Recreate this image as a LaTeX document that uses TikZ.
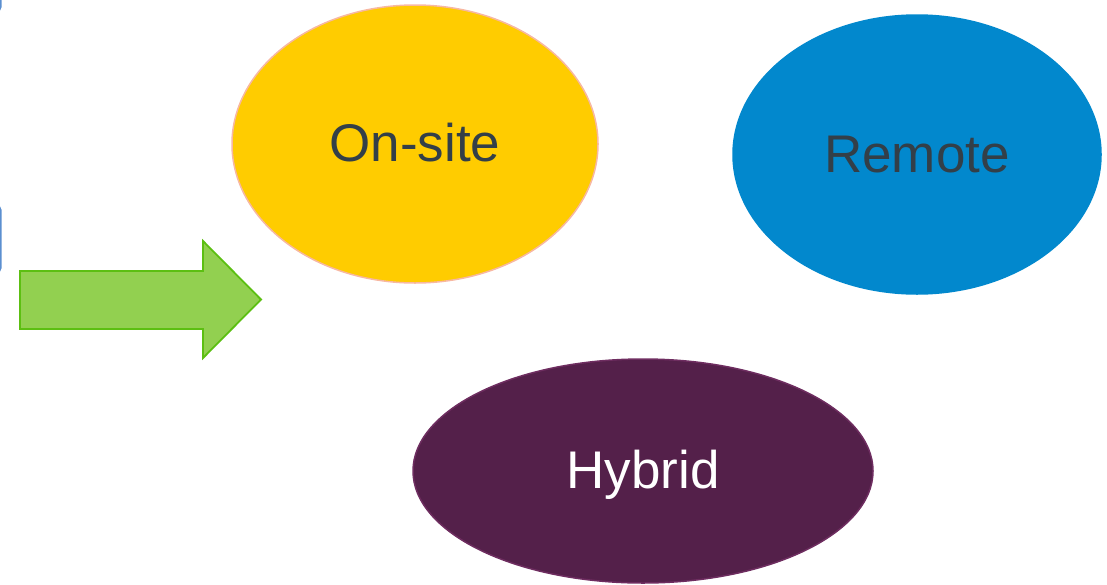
\documentclass[tikz,border=0pt]{standalone}
\usepackage{fontspec}
\setmainfont{Liberation Sans}
\usetikzlibrary{shapes.geometric}
\definecolor{onsitefill}{HTML}{FFCC00}
\definecolor{onsiteline}{HTML}{F7B8A2}
\definecolor{remotefill}{HTML}{0288CD}
\definecolor{hybridfill}{HTML}{54204A}
\definecolor{hybridline}{HTML}{6E2D60}
\definecolor{textdark}{HTML}{333F48}
\definecolor{arrowfill}{HTML}{92D050}
\definecolor{arrowline}{HTML}{5CBF12}
\definecolor{edgeblue}{HTML}{5B8FD0}
\tikzset{
  bubble/.style={ellipse, inner sep=0pt, line width=1.5pt,
    font=\fontsize{53}{60}\selectfont, text height=35pt, text depth=0pt},
}
\begin{document}
\begin{tikzpicture}[x=1pt,y=-1pt]
\useasboundingbox (0,0) rectangle (1107,584);
\begin{scope}
\clip (0,0) rectangle (1107,584);
\draw[edgeblue, line width=1.5pt, rounded corners=4pt] (-40,-30) rectangle (0.8,11);
\draw[edgeblue, line width=1.5pt, rounded corners=4pt] (-40,206) rectangle (0.8,272);
\end{scope}
\node[bubble, fill=onsitefill, draw=onsiteline, minimum width=366pt, minimum height=278pt, text=textdark] (onsite) at (415,144) {On-site};
\node[bubble, fill=remotefill, draw=remotefill, minimum width=368pt, minimum height=279pt, text=textdark] (remote) at (917,154.5) {Remote};
\node[bubble, fill=hybridfill, draw=hybridline, minimum width=460pt, minimum height=224pt, text=white] (hybrid) at (643,471) {Hybrid};
\draw[fill=arrowfill, draw=arrowline, line width=1.8pt] (20,271) -- (203,271) -- (203,241) -- (261,299.5) -- (203,358) -- (203,329) -- (20,329) -- cycle;
\end{tikzpicture}
\end{document}
